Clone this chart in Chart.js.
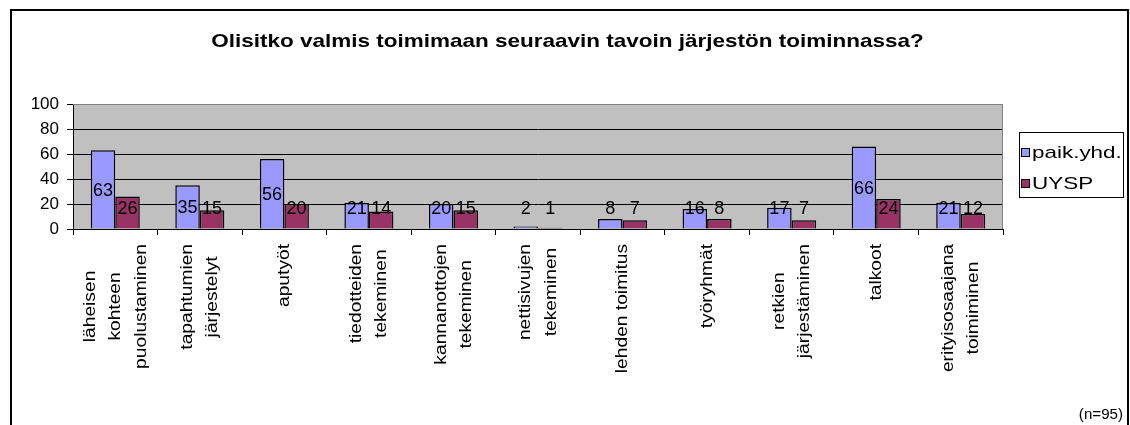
<!DOCTYPE html>
<html>
<head>
<meta charset="utf-8">
<script src="https://cdn.jsdelivr.net/npm/chart.js@4"></script>
<style>
  html, body { margin: 0; padding: 0; background: #fff; }
</style>
</head>
<body>
<canvas id="chart" width="1130" height="425"></canvas>
<script>
// kysymyksen vaihtoehdot (rivitetty kuten alkuperäisessä)
const categories = [
    ['läheisen', 'kohteen', 'puolustaminen'],
    ['tapahtumien', 'järjestelyt'],
    ['aputyöt'],
    ['tiedotteiden', 'tekeminen'],
    ['kannanottojen', 'tekeminen'],
    ['nettisivujen', 'tekeminen'],
    ['lehden toimitus'],
    ['työryhmät'],
    ['retkien', 'järjestäminen'],
    ['talkoot'],
    ['erityisosaajana', 'toimiminen']
];
const seriesNames = ['paik.yhd.', 'UYSP'];
const paikYhd = [63, 35, 56, 21, 20, 2, 8, 16, 17, 66, 21];
const uysp = [26, 15, 20, 14, 15, 1, 7, 8, 7, 24, 12];
const yMin = 0;
const yMax = 100;
const yStep = 20;
const titleText = 'Olisitko valmis toimimaan seuraavin tavoin järjestön toiminnassa?';
const noteText = '(n=95)';

const FONT = '"Liberation Sans", Arial, sans-serif';
Chart.defaults.font.family = FONT;
Chart.defaults.color = '#000';

function drawText(ctx, text, x, y, size, opts) {
    opts = opts || {};
    ctx.save();
    ctx.font = (opts.bold ? 'bold ' : '') + size + 'px ' + FONT;
    ctx.fillStyle = '#000';
    ctx.textAlign = opts.align || 'left';
    ctx.textBaseline = 'alphabetic';
    ctx.translate(x, y);
    if (opts.rotate) ctx.rotate(opts.rotate);
    ctx.scale(opts.sx || 1, 1);
    ctx.fillText(text, 0, opts.dy || 0);
    ctx.restore();
}

// Excel-tyylinen tausta, otsikko, selite ja luokkien nimet
const excelLook = {
    id: 'excelLook',
    beforeDraw(chart) {
        const { ctx, chartArea: a } = chart;
        ctx.save();
        ctx.fillStyle = '#fff';
        ctx.fillRect(0, 0, chart.width, chart.height);
        ctx.fillStyle = '#C0C0C0';
        ctx.fillRect(a.left, a.top, a.right - a.left, a.bottom - a.top);
        ctx.restore();
    },
    afterDatasetsDraw(chart) {
        const { ctx } = chart;
        // arvot pylväiden päälle
        chart.data.datasets.forEach((ds, di) => {
            const meta = chart.getDatasetMeta(di);
            meta.data.forEach((bar, i) => {
                const mid = (bar.y + bar.base) / 2;
                const cy = Math.min(mid, bar.base - 21);
                drawText(ctx, String(ds.data[i]), bar.x, cy + 0.358 * 18, 18, { align: 'center' });
            });
        });
    },
    afterDraw(chart) {
        const { ctx, chartArea: a } = chart;
        const xScale = chart.scales.x;

        // kuva-alueen harmaa reunus ylhäällä ja oikealla
        ctx.save();
        ctx.strokeStyle = '#808080';
        ctx.lineWidth = 1;
        ctx.beginPath();
        ctx.moveTo(a.left, a.top + 0.5);
        ctx.lineTo(a.right - 0.5, a.top + 0.5);
        ctx.lineTo(a.right - 0.5, a.bottom);
        ctx.stroke();
        ctx.restore();

        // otsikko
        drawText(ctx, titleText, 567.5, 47, 18.6, { bold: true, align: 'center', sx: 1.21 });

        // luokkien nimet pystyyn, rivit keskitettyinä
        const size = 16, sx = 1.2, lineH = 25.5;
        ctx.save();
        ctx.font = size + 'px ' + FONT;
        chart.data.labels.forEach((lines, i) => {
            const x = xScale.getPixelForValue(i);
            const maxW = Math.max(...lines.map(l => ctx.measureText(l).width)) * sx;
            const yc = a.bottom + 15 + maxW / 2;
            lines.forEach((line, j) => {
                const off = (j - (lines.length - 1) / 2) * lineH;
                drawText(ctx, line, x, yc, size, {
                    align: 'center', rotate: -Math.PI / 2, sx: sx, dy: off + 0.3 * size
                });
            });
        });
        ctx.restore();

        // selite
        ctx.save();
        ctx.strokeStyle = '#000';
        ctx.lineWidth = 1;
        ctx.strokeRect(1019.5, 132.5, 104, 65);
        const rows = [148, 179];
        chart.data.datasets.forEach((ds, di) => {
            ctx.fillStyle = ds.backgroundColor;
            ctx.fillRect(1021, rows[di], 9, 9);
            ctx.strokeRect(1021.5, rows[di] + 0.5, 8, 8);
            drawText(ctx, ds.label, 1032, rows[di] + 10, 17, { sx: 1.32 });
        });
        ctx.restore();

        // n-luku
        drawText(ctx, noteText, 1123, 419, 14, { align: 'right', sx: 1.08 });

        // kehys
        ctx.save();
        ctx.strokeStyle = '#000';
        ctx.lineWidth = 2;
        ctx.strokeRect(11, 10, 1117, 600);
        ctx.restore();
    }
};

const ctx = document.getElementById('chart').getContext('2d');
const chart = new Chart(ctx, {
    type: 'bar',
    data: {
        labels: categories,
        datasets: [
            {
                label: seriesNames[0],
                data: paikYhd,
                backgroundColor: '#9999FF',
                borderColor: '#000',
                borderWidth: 1.5
            },
            {
                label: seriesNames[1],
                data: uysp,
                backgroundColor: '#993366',
                borderColor: '#000',
                borderWidth: 1.5
            }
        ]
    },
    options: {
        responsive: false,
        animation: false,
        categoryPercentage: 0.58,
        barPercentage: 1.0,
        layout: { padding: { top: 104, right: 127, bottom: 0, left: 0 } },
        plugins: {
            legend: { display: false },
            title: { display: false },
            tooltip: { enabled: false }
        },
        scales: {
            x: {
                ticks: { display: false },
                grid: { drawOnChartArea: false, drawTicks: true, tickLength: 6, color: '#000' },
                border: { color: '#000' },
                afterFit: (s) => { s.height = 196; }
            },
            y: {
                min: yMin,
                max: yMax,
                ticks: { stepSize: yStep, color: '#000', font: { size: 17 }, padding: 8 },
                grid: {
                    color: (c) => (c.tick && c.tick.value === yMax ? '#808080' : '#000'),
                    tickColor: '#000',
                    tickLength: 6
                },
                border: { color: '#000' },
                afterFit: (s) => { s.width = 73; }
            }
        }
    },
    plugins: [excelLook]
});
</script>
</body>
</html>
